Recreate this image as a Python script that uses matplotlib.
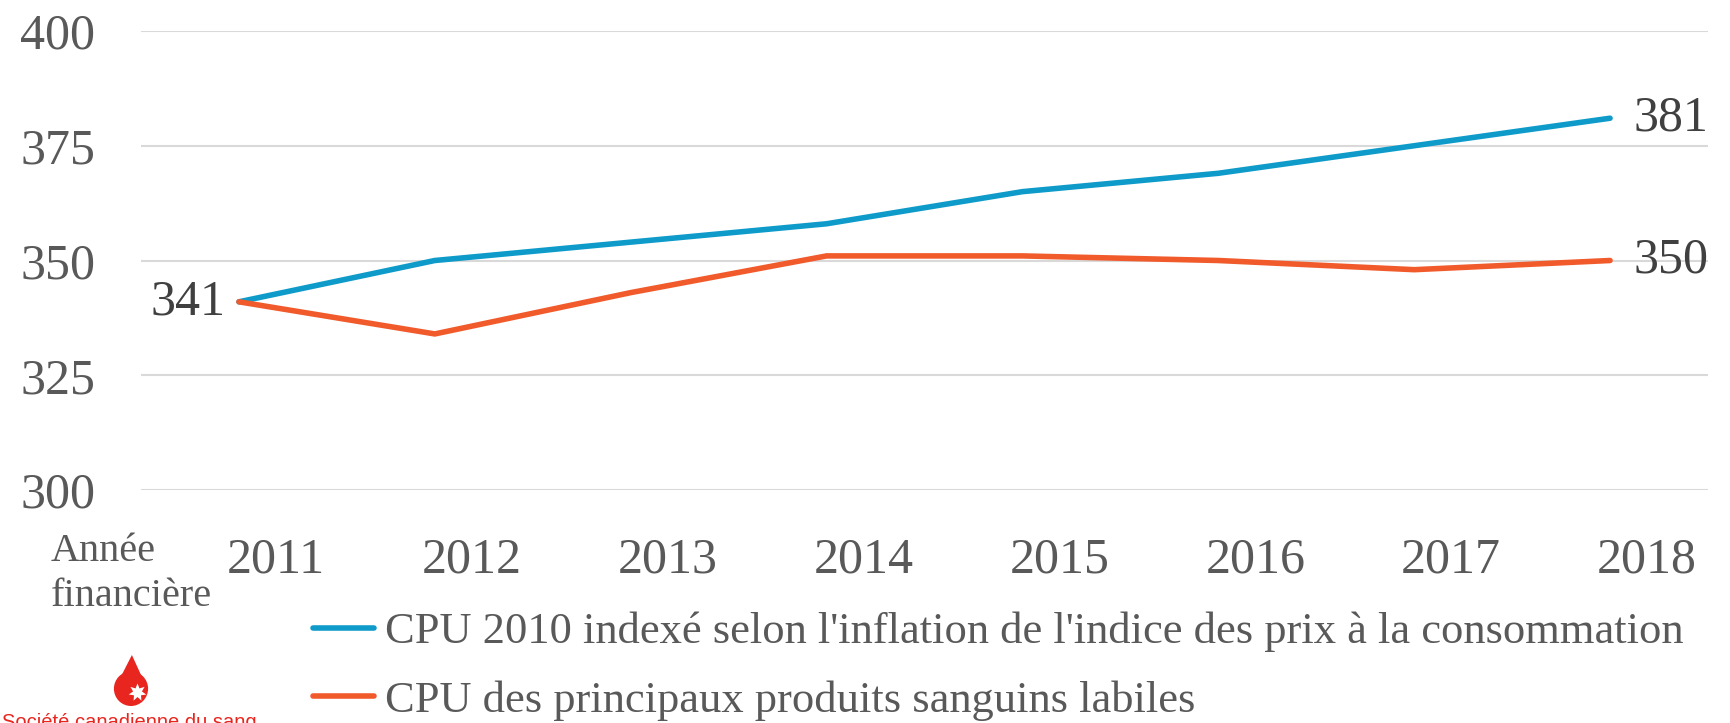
import matplotlib
matplotlib.use("Agg")
import matplotlib.pyplot as plt
import matplotlib.transforms as mtransforms
import matplotlib.patches as mpatches
import numpy as np

years = ["2011", "2012", "2013", "2014", "2015", "2016", "2017", "2018"]
cpu_inflation = [341, 350, 354, 358, 365, 369, 375, 381]
cpu_labile = [341, 334, 343, 351, 351, 350, 348, 350]
series_labels = [
    "CPU 2010 indexé selon l'inflation de l'indice des prix à la consommation",
    "CPU des principaux produits sanguins labiles",
]
y_ticks = [300, 325, 350, 375, 400]

BLUE = "#0E9BC9"
ORANGE = "#F15A2B"
RED = "#E8251F"
TICK_COLOR = "#595959"
LABEL_COLOR = "#404040"
GRID_COLOR = "#D9D9D9"
FONT = "Liberation Serif"

W, H = 1731, 723
fig = plt.figure(figsize=(W / 100, H / 100), dpi=100)
fig.patch.set_facecolor("white")
ax = fig.add_axes([141 / W, 1 - 490 / H, (1708 - 141) / W, (490 - 31) / H])

x = np.arange(len(years))
ax.plot(x, cpu_inflation, color=BLUE, lw=4, solid_capstyle="round", solid_joinstyle="round",
        label=series_labels[0], zorder=3)
ax.plot(x, cpu_labile, color=ORANGE, lw=4, solid_capstyle="round", solid_joinstyle="round",
        label=series_labels[1], zorder=3)

ax.set_xlim(-0.5, len(years) - 0.5)
ax.set_ylim(300, 400)
ax.set_yticks(y_ticks)
ax.set_yticklabels([str(v) for v in y_ticks], fontsize=36, family=FONT, color=TICK_COLOR)
ax.set_xticks(x)
ax.set_xticklabels(years, fontsize=36, family=FONT, color=TICK_COLOR)
ax.tick_params(axis="y", length=0, pad=33)
ax.tick_params(axis="x", length=0, pad=34)
# tick labels sit a bit right of the category centres
shift = mtransforms.ScaledTranslation(37 / 100, 0, fig.dpi_scale_trans)
for lbl in ax.get_xticklabels():
    lbl.set_transform(lbl.get_transform() + shift)

ax.grid(axis="y", color=GRID_COLOR, lw=1.5, zorder=0)
for s in ax.spines.values():
    s.set_visible(False)

# end labels
ax.annotate(str(cpu_inflation[0]), (x[0], cpu_inflation[0]), xytext=(-10, 0), textcoords="offset points",
            ha="right", va="center", fontsize=36, family=FONT, color=LABEL_COLOR)
ax.annotate(str(cpu_inflation[-1]), (x[-1], cpu_inflation[-1]), xytext=(17, 0), textcoords="offset points",
            ha="left", va="center", fontsize=36, family=FONT, color=LABEL_COLOR)
ax.annotate(str(cpu_labile[-1]), (x[-1], cpu_labile[-1]), xytext=(17, 0), textcoords="offset points",
            ha="left", va="center", fontsize=36, family=FONT, color=LABEL_COLOR)

fig.text(51 / W, 1 - 533 / H, "Année\nfinancière", ha="left", va="top", fontsize=29,
         family=FONT, color=TICK_COLOR, linespacing=1.3)

fig.legend(loc="upper left", bbox_to_anchor=(273 / W, 1 - 572 / H), frameon=False,
           prop={"family": FONT, "size": 32}, labelcolor=TICK_COLOR,
           handlelength=1.37, handletextpad=0.25, labelspacing=0.62)

# logo: red drop with a maple leaf bite, name clipped by the bottom edge
lax = fig.add_axes([113 / W, 1 - 706 / H, 36 / W, 51 / H])
lax.set_xlim(-1, 1)
lax.set_ylim(-1, 1.8)
lax.axis("off")
lax.add_patch(mpatches.Polygon([[0.93, -0.1], [0.05, 1.8], [-0.93, -0.1]], color=RED, lw=0))
lax.add_patch(mpatches.Circle((0, -0.05), 0.95, color=RED, lw=0))
lax.plot([0.35], [-0.25], marker=(7, 1, 0), ms=13, color="white", mew=0)
fig.text(2 / W, 1 - 713 / H, "Société canadienne du sang", ha="left", va="top", fontsize=14.5,
         family="Liberation Sans", color=RED)

fig.savefig("out.png", dpi=100, facecolor="white")
